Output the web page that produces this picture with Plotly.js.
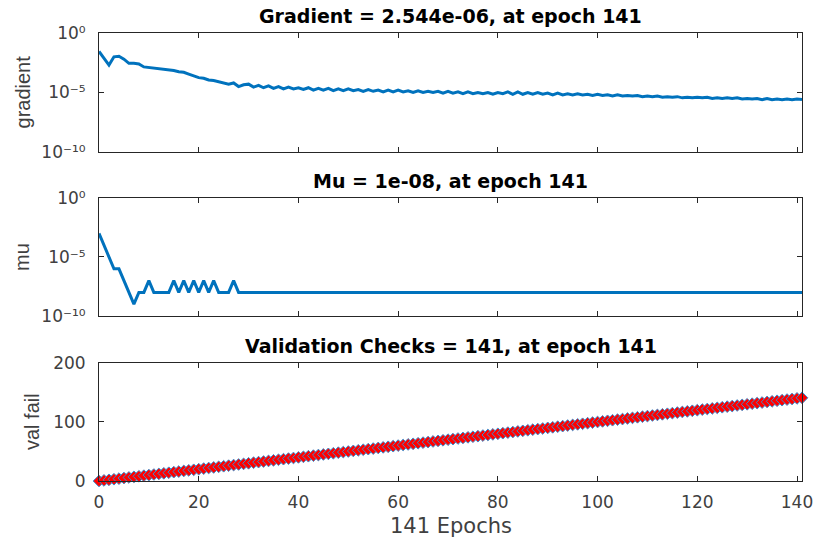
<!DOCTYPE html>
<html>
<head>
<meta charset="utf-8">
<script src="https://cdn.plot.ly/plotly-3.0.1.min.js"></script>
<style>
  html, body { margin: 0; padding: 0; background: #ffffff; }
  #chart { width: 814px; height: 539px; }
</style>
</head>
<body>
<div id="chart"></div>
<script>
// ---- data ----
const epochs = [
  0,1,2,3,4,5,6,7,8,9,10,11,12,13,14,15,16,17,18,19,20,21,22,23,24,25,26,27,28,29,
  30,31,32,33,34,35,36,37,38,39,40,41,42,43,44,45,46,47,48,49,50,51,52,53,54,55,56,57,58,59,
  60,61,62,63,64,65,66,67,68,69,70,71,72,73,74,75,76,77,78,79,80,81,82,83,84,85,86,87,88,89,
  90,91,92,93,94,95,96,97,98,99,100,101,102,103,104,105,106,107,108,109,110,111,112,113,114,
  115,116,117,118,119,120,121,122,123,124,125,126,127,128,129,130,131,132,133,134,135,136,137,
  138,139,140,141
];

const gradient = [
  2.82e-2, 7.08e-3, 2.0e-3, 1.0e-2, 1.12e-2, 6.31e-3, 2.82e-3, 2.82e-3, 2.51e-3, 1.41e-3,
  1.26e-3, 1.12e-3, 1.12e-3, 1.0e-3, 8.91e-4, 7.08e-4, 5.62e-4, 5.01e-4, 3.55e-4, 2.51e-4,
  1.78e-4, 1.58e-4, 1.12e-4, 1.0e-4, 7.94e-5, 6.31e-5, 5.01e-5, 6.31e-5, 3.16e-5, 4.47e-5,
  5.01e-5, 2.82e-5, 3.98e-5, 2.51e-5, 3.55e-5, 2.24e-5, 3.16e-5, 2.0e-5, 2.82e-5, 2.0e-5,
  2.51e-5, 1.78e-5, 2.51e-5, 1.58e-5, 2.24e-5, 1.58e-5, 2.24e-5, 1.41e-5, 2.0e-5, 1.41e-5,
  2.0e-5, 1.41e-5, 1.78e-5, 1.26e-5, 1.78e-5, 1.26e-5, 1.58e-5, 1.12e-5, 1.58e-5, 1.12e-5,
  1.58e-5, 1.12e-5, 1.41e-5, 1.0e-5, 1.41e-5, 1.0e-5, 1.26e-5, 1.0e-5, 1.26e-5, 8.91e-6,
  1.26e-5, 8.91e-6, 1.12e-5, 7.94e-6, 1.12e-5, 7.94e-6, 1.0e-5, 7.94e-6, 1.0e-5, 7.08e-6,
  1.0e-5, 7.94e-6, 1.12e-5, 7.08e-6, 1.12e-5, 7.08e-6, 1.0e-5, 7.08e-6, 1.0e-5, 7.08e-6,
  8.91e-6, 6.31e-6, 8.91e-6, 6.31e-6, 7.94e-6, 6.31e-6, 7.94e-6, 6.31e-6, 7.08e-6, 5.62e-6,
  7.08e-6, 5.62e-6, 6.31e-6, 5.01e-6, 6.31e-6, 5.01e-6, 5.62e-6, 5.01e-6, 5.62e-6, 4.47e-6,
  5.01e-6, 4.47e-6, 5.01e-6, 3.98e-6, 4.47e-6, 3.98e-6, 4.47e-6, 3.55e-6, 3.98e-6, 3.55e-6,
  3.98e-6, 3.55e-6, 3.98e-6, 3.16e-6, 3.55e-6, 3.16e-6, 3.55e-6, 3.16e-6, 3.55e-6, 2.82e-6,
  3.16e-6, 2.82e-6, 3.16e-6, 2.51e-6, 3.16e-6, 2.51e-6, 2.82e-6, 2.51e-6, 2.82e-6, 2.51e-6,
  2.82e-6, 2.544e-6
];

const mu = [
  1e-3, 1e-4, 1e-5, 1e-6, 1e-6, 1e-7, 1e-8, 1e-9, 1e-8, 1e-8,
  1e-7, 1e-8, 1e-8, 1e-8, 1e-8, 1e-7, 1e-8, 1e-7, 1e-8, 1e-7,
  1e-8, 1e-7, 1e-8, 1e-7, 1e-8, 1e-8, 1e-8, 1e-7, 1e-8, 1e-8,
  1e-8, 1e-8, 1e-8, 1e-8, 1e-8, 1e-8, 1e-8, 1e-8, 1e-8, 1e-8,
  1e-8, 1e-8, 1e-8, 1e-8, 1e-8, 1e-8, 1e-8, 1e-8, 1e-8, 1e-8,
  1e-8, 1e-8, 1e-8, 1e-8, 1e-8, 1e-8, 1e-8, 1e-8, 1e-8, 1e-8,
  1e-8, 1e-8, 1e-8, 1e-8, 1e-8, 1e-8, 1e-8, 1e-8, 1e-8, 1e-8,
  1e-8, 1e-8, 1e-8, 1e-8, 1e-8, 1e-8, 1e-8, 1e-8, 1e-8, 1e-8,
  1e-8, 1e-8, 1e-8, 1e-8, 1e-8, 1e-8, 1e-8, 1e-8, 1e-8, 1e-8,
  1e-8, 1e-8, 1e-8, 1e-8, 1e-8, 1e-8, 1e-8, 1e-8, 1e-8, 1e-8,
  1e-8, 1e-8, 1e-8, 1e-8, 1e-8, 1e-8, 1e-8, 1e-8, 1e-8, 1e-8,
  1e-8, 1e-8, 1e-8, 1e-8, 1e-8, 1e-8, 1e-8, 1e-8, 1e-8, 1e-8,
  1e-8, 1e-8, 1e-8, 1e-8, 1e-8, 1e-8, 1e-8, 1e-8, 1e-8, 1e-8,
  1e-8, 1e-8, 1e-8, 1e-8, 1e-8, 1e-8, 1e-8, 1e-8, 1e-8, 1e-8,
  1e-8, 1e-8
];

const valFail = [
  0,1,2,3,4,5,6,7,8,9,10,11,12,13,14,15,16,17,18,19,20,21,22,23,24,25,26,27,28,29,
  30,31,32,33,34,35,36,37,38,39,40,41,42,43,44,45,46,47,48,49,50,51,52,53,54,55,56,57,58,59,
  60,61,62,63,64,65,66,67,68,69,70,71,72,73,74,75,76,77,78,79,80,81,82,83,84,85,86,87,88,89,
  90,91,92,93,94,95,96,97,98,99,100,101,102,103,104,105,106,107,108,109,110,111,112,113,114,
  115,116,117,118,119,120,121,122,123,124,125,126,127,128,129,130,131,132,133,134,135,136,137,
  138,139,140,141
];

const subplotTitles = [
  'Gradient = 2.544e-06, at epoch 141',
  'Mu = 1e-08, at epoch 141',
  'Validation Checks = 141, at epoch 141'
];
const yTitles = ['gradient', 'mu', 'val fail'];
const xTitle = '141 Epochs';
const xTickVals = [0, 20, 40, 60, 80, 100, 120, 140];
const logTickVals = [1, 1e-5, 1e-10];
const logTickText = ['10\u2070', '10\u207B\u2075', '10\u207B\u00B9\u2070'];
const linTickVals = [0, 100, 200];

// ---- styling ----
const BLUE = '#0072BD';
const AX = '#262626';
const TICKFONT = {family: 'DejaVu Sans', size: 17, color: '#404040'};

function xAxis(anchor, labels) {
  return {
    anchor: anchor, domain: [0, 1], range: [0, 141],
    tickvals: xTickVals, showticklabels: labels,
    ticks: 'inside', ticklen: 5, tickwidth: 1, tickcolor: AX,
    showline: true, linecolor: AX, linewidth: 1, mirror: 'allticks',
    showgrid: false, zeroline: false, tickfont: TICKFONT, ticklabelstandoff: 6
  };
}
function yAxis(anchor, domain, extra) {
  return Object.assign({
    anchor: anchor, domain: domain,
    ticks: 'inside', ticklen: 5, tickwidth: 1, tickcolor: AX,
    showline: true, linecolor: AX, linewidth: 1, mirror: 'allticks',
    showgrid: false, zeroline: false, tickfont: TICKFONT, ticklabelstandoff: 9
  }, extra);
}

const traces = [
  {x: epochs, y: gradient, xaxis: 'x', yaxis: 'y', type: 'scatter', mode: 'lines',
   line: {color: BLUE, width: 3}, hoverinfo: 'skip'},
  {x: epochs, y: mu, xaxis: 'x2', yaxis: 'y2', type: 'scatter', mode: 'lines',
   line: {color: BLUE, width: 3}, hoverinfo: 'skip'},
  {x: epochs, y: valFail, xaxis: 'x3', yaxis: 'y3', type: 'scatter', mode: 'lines+markers',
   line: {color: BLUE, width: 1},
   marker: {symbol: 'diamond', size: 9, color: '#ff0000', line: {color: '#3a8fd0', width: 1}},
   hoverinfo: 'skip', cliponaxis: false}
];

const domTop = [0.7344, 1.0];
const domMid = [0.3683, 0.6317];
const domBot = [0.0, 0.2634];

const TITLEFONT = {family: 'DejaVu Sans', size: 19, color: '#000000', weight: 'bold'};
const LABELFONT = {family: 'Liberation Sans', size: 20, color: '#404040'};

const annotations = [
  {text: subplotTitles[0], xref: 'paper', yref: 'paper', x: 0.5, y: domTop[1], xanchor: 'center', yanchor: 'bottom', yshift: 4, showarrow: false, font: TITLEFONT},
  {text: subplotTitles[1], xref: 'paper', yref: 'paper', x: 0.5, y: domMid[1], xanchor: 'center', yanchor: 'bottom', yshift: 4, showarrow: false, font: TITLEFONT},
  {text: subplotTitles[2], xref: 'paper', yref: 'paper', x: 0.5, y: domBot[1], xanchor: 'center', yanchor: 'bottom', yshift: 4, showarrow: false, font: TITLEFONT},
  {text: yTitles[0], xref: 'paper', yref: 'paper', x: 0, y: (domTop[0] + domTop[1]) / 2, xanchor: 'center', yanchor: 'middle', xshift: -76, textangle: -90, showarrow: false, font: LABELFONT},
  {text: yTitles[1], xref: 'paper', yref: 'paper', x: 0, y: (domMid[0] + domMid[1]) / 2, xanchor: 'center', yanchor: 'middle', xshift: -77, textangle: -90, showarrow: false, font: LABELFONT},
  {text: yTitles[2], xref: 'paper', yref: 'paper', x: 0, y: (domBot[0] + domBot[1]) / 2, xanchor: 'center', yanchor: 'middle', xshift: -67, textangle: -90, showarrow: false, font: LABELFONT},
  {text: xTitle, xref: 'paper', yref: 'paper', x: 0.5, y: 0, xanchor: 'center', yanchor: 'top', yshift: -31, showarrow: false,
   font: {family: 'DejaVu Sans', size: 21, color: '#404040'}}
];

const layout = {
  width: 814, height: 539,
  margin: {l: 99, r: 12, t: 33, b: 58, pad: 0},
  paper_bgcolor: '#ffffff', plot_bgcolor: '#ffffff',
  showlegend: false,
  xaxis: xAxis('y', false),
  xaxis2: xAxis('y2', false),
  xaxis3: xAxis('y3', true),
  yaxis: yAxis('x', domTop, {type: 'log', range: [-10, 0], tickvals: logTickVals, ticktext: logTickText}),
  yaxis2: yAxis('x2', domMid, {type: 'log', range: [-10, 0], tickvals: logTickVals, ticktext: logTickText}),
  yaxis3: yAxis('x3', domBot, {type: 'linear', range: [0, 200], tickvals: linTickVals}),
  annotations: annotations
};

Plotly.newPlot('chart', traces, layout, {staticPlot: true, displayModeBar: false});
</script>
</body>
</html>
